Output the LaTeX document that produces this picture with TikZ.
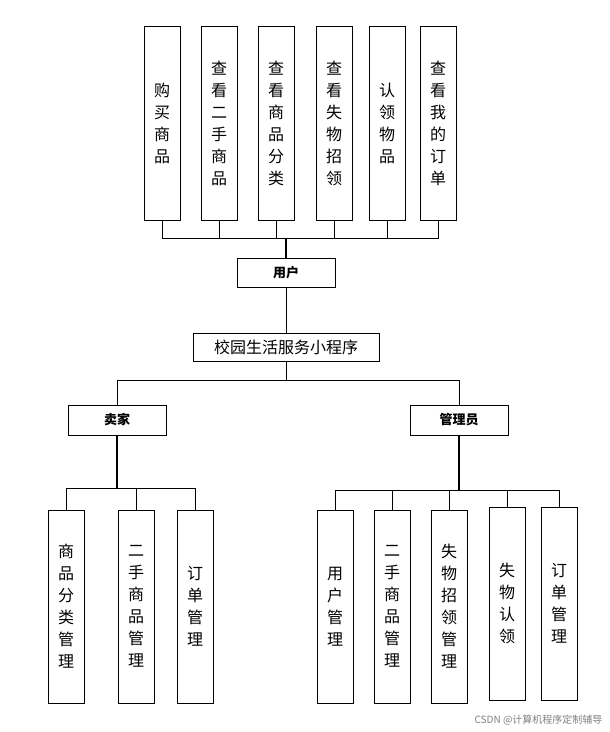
\documentclass[tikz,border=0pt]{standalone}
\usepackage{fontspec}
\setmainfont{Noto Sans CJK SC}
\begin{document}
\begin{tikzpicture}[x=1pt,y=-1pt,
  vbox/.style={draw,line width=0.9pt,minimum width=36pt,inner sep=0pt,align=center,font=\fontsize{16}{22}\selectfont},
  hbox/.style={draw,line width=0.9pt,inner sep=0pt,font=\fontsize{13}{15}\selectfont\bfseries},
  ln/.style={line width=1.2pt}]
\useasboundingbox (0,0) rectangle (610,732);
% top
\node[vbox,minimum height=194pt] (t1) at (162,123) {购\\买\\商\\品};
\node[vbox,minimum height=194pt] (t2) at (219,123) {查\\看\\二\\手\\商\\品};
\node[vbox,minimum height=194pt] (t3) at (276,123) {查\\看\\商\\品\\分\\类};
\node[vbox,minimum height=194pt] (t4) at (334,123) {查\\看\\失\\物\\招\\领};
\node[vbox,minimum height=194pt] (t5) at (387,123) {认\\领\\物\\品};
\node[vbox,minimum height=194pt] (t6) at (438,123) {查\\看\\我\\的\\订\\单};
\node[hbox,minimum width=98pt,minimum height=29pt] (user) at (286,272.5) {用户};
\node[draw,line width=0.9pt,minimum width=186pt,minimum height=28pt,inner sep=0pt,font=\fontsize{16}{18}\selectfont] (main) at (286,347) {校园生活服务小程序};
\node[hbox,minimum width=98pt,minimum height=30pt] (seller) at (117,420) {卖家};
\node[hbox,minimum width=98pt,minimum height=30pt] (admin) at (459,420) {管理员};
% seller children
\node[vbox,minimum height=193pt] (s1) at (66,606.5) {商\\品\\分\\类\\管\\理};
\node[vbox,minimum height=193pt] (s2) at (136,606.5) {二\\手\\商\\品\\管\\理};
\node[vbox,minimum height=193pt] (s3) at (195,606.5) {订\\单\\管\\理};
% admin children
\node[vbox,minimum height=193pt] (a1) at (335,606.5) {用\\户\\管\\理};
\node[vbox,minimum height=193pt] (a2) at (392,606.5) {二\\手\\商\\品\\管\\理};
\node[vbox,minimum height=193pt] (a3) at (449,606.5) {失\\物\\招\\领\\管\\理};
\node[vbox,minimum height=193pt] (a4) at (507,603.5) {失\\物\\认\\领};
\node[vbox,minimum height=193pt] (a5) at (559,603.5) {订\\单\\管\\理};
% connectors
\coordinate (bt) at (286,238);
\foreach \n in {t1,t2,t3,t4,t5,t6} \draw (\n.south) |- (bt);
\draw (t1.south) ++(0,18) -- ++(276,0);
\draw[ln] (bt) -- (user.north);
\draw (user.south) -- (main.north);
\draw (main.south) -- ++(0,19) coordinate (bm);
\draw (seller.north) |- (bm) -| (admin.north);
\draw[ln] (seller.south) -- (117,488) coordinate (bs);
\foreach \n in {s1,s2,s3} \draw (\n.north) |- (bs);
\draw[ln] (admin.south) -- (459,490) coordinate (ba);
\foreach \n in {a1,a2,a3,a4,a5} \draw (\n.north) |- (ba);
\node[text=gray,font=\fontsize{10}{12}\selectfont,anchor=east] (wm) at (606,720) {CSDN @计算机程序定制辅导};
\end{tikzpicture}
\end{document}
